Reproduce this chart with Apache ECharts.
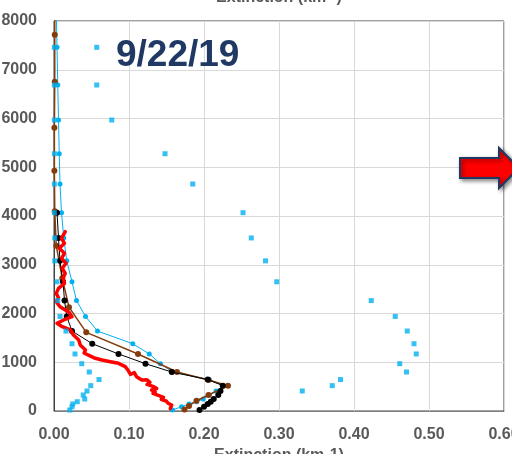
<!DOCTYPE html>
<html>
<head>
<meta charset="utf-8">
<script src="https://cdn.jsdelivr.net/npm/echarts@6/dist/echarts.min.js"></script>
<style>html,body{margin:0;padding:0;background:#fff;}#c{width:512px;height:454px;}</style>
</head>
<body>
<div id="c"></div>
<script>
// Altitudes (m) shared by the cyan profiles and the black profile
const heights = [8250, 7460, 6687, 5969, 5277, 4656, 4068, 3550, 3080, 2650, 2265, 1940, 1640, 1380, 1170, 970, 800, 645, 520, 410, 328, 246, 191, 144, 88, 20];
// Cyan squares, small-extinction column
const cyanSmall = [null, 0.0005, 0.0005, 0.0005, 0.0005, 0.0005, 0.0005, 0.001, 0.001, 0.004, 0.005, 0.008, 0.016, 0.024, 0.028, 0.037, 0.047, 0.060, 0.049, 0.044, 0.039, 0.041, 0.031, 0.025, 0.024, 0.021];
// Cyan squares, large-extinction column
const cyanLarge = [null, 0.057, 0.057, 0.077, 0.148, 0.185, 0.252, 0.263, 0.282, 0.297, 0.423, 0.455, 0.471, 0.480, 0.483, 0.461, 0.470, 0.382, 0.371, 0.331, null, null, null, null, null, null];
// Cyan line with markers
const cyanLine = [0.003, 0.004, 0.005, 0.006, 0.007, 0.008, 0.010, 0.013, 0.017, 0.024, 0.030, 0.042, 0.058, 0.105, 0.127, 0.142, 0.158, 0.207, 0.226, 0.216, 0.207, 0.199, 0.190, 0.180, 0.170, 0.158];
// Black line with markers
const blackLine = [null, null, null, null, null, null, 0.004, 0.006, 0.008, 0.012, 0.014, 0.017, 0.024, 0.051, 0.086, 0.122, 0.157, 0.205, 0.225, 0.222, 0.219, 0.213, 0.209, 0.205, 0.200, 0.194];
// Brown line with markers
const brownHeights = [8700, 7720, 6755, 5811, 4929, 4100, 3390, 2722, 2130, 1614, 1169, 800, 636, 519, 328, 211, 103, 30];
const brownLine = [0.001, 0.001, 0.001, 0.0005, 0.0005, 0.001, 0.003, 0.011, 0.020, 0.043, 0.112, 0.164, 0.206, 0.232, 0.206, 0.190, 0.180, 0.174];
// Red line (no markers)
const redHeights = [3678, 3542, 3440, 3337, 3235, 3132, 3030, 2927, 2824, 2722, 2619, 2516, 2413, 2324, 2242, 2139, 2024, 1934, 1867, 1799, 1730, 1662, 1559, 1456, 1354, 1251, 1190, 1130, 1081, 1046, 1012, 978, 909, 830, 750, 790, 704, 636, 640, 590, 545, 500, 460, 431, 390, 362, 320, 280, 240, 200, 158, 120, 80, 50];
const redLine = [0.015, 0.010, 0.014, 0.007, 0.014, 0.010, 0.016, 0.011, 0.015, 0.012, 0.014, 0.006, 0.003, 0.006, 0.003, 0.008, 0.020, 0.024, 0.013, 0.004, 0.011, 0.022, 0.026, 0.033, 0.035, 0.042, 0.040, 0.048, 0.055, 0.064, 0.075, 0.086, 0.095, 0.099, 0.102, 0.107, 0.110, 0.117, 0.124, 0.128, 0.124, 0.133, 0.137, 0.130, 0.135, 0.132, 0.139, 0.146, 0.143, 0.150, 0.152, 0.157, 0.158, 0.155];

const xTicks = [0, 0.1, 0.2, 0.3, 0.4, 0.5, 0.6];
const dateLabel = '9/22/19';
const axisTitle = 'Extinction (km-1)';
const topTitle = 'Extinction (km\u207B\u00B9)';

function pairs(xs, ys) {
  const out = [];
  for (let i = 0; i < xs.length; i++) {
    if (xs[i] !== null && xs[i] !== undefined) out.push([xs[i], ys[i]]);
  }
  return out;
}

const FONT = '"Liberation Sans", Arial, sans-serif';
const chart = echarts.init(document.getElementById('c'), null, {renderer: 'canvas'});
chart.setOption({
  animation: false,
  backgroundColor: '#ffffff',
  grid: {left: 54, right: 8, top: 21, bottom: 43, show: true, borderColor: '#404040', borderWidth: 1,
    containLabel: false, outerBoundsMode: 'none'},
  xAxis: {
    type: 'value', min: xTicks[0], max: xTicks[xTicks.length - 1], interval: 0.1,
    axisLine: {show: true, lineStyle: {color: '#808080', width: 1}},
    axisTick: {show: false},
    splitLine: {show: true, lineStyle: {color: '#D9D9D9', width: 1}},
    axisLabel: {color: '#595959', fontSize: 16, fontWeight: 'bold', fontFamily: FONT, margin: 16,
      hideOverlap: false, showMaxLabel: true, formatter: v => v.toFixed(2)},
    name: axisTitle, nameLocation: 'middle', nameGap: 34,
    nameTextStyle: {color: '#595959', fontSize: 16, fontWeight: 'bold', fontFamily: FONT}
  },
  yAxis: {
    type: 'value', min: 0, max: 8000, interval: 1000,
    axisLine: {show: true, lineStyle: {color: '#404040', width: 1}},
    axisTick: {show: false},
    splitLine: {show: true, lineStyle: {color: '#D9D9D9', width: 1}},
    axisLabel: {color: '#595959', fontSize: 16, fontWeight: 'bold', fontFamily: FONT, margin: 17,
      formatter: v => String(v)}
  },
  series: [
    {type: 'line', name: 'cyanLine', data: pairs(cyanLine, heights), symbol: 'circle', symbolSize: 5,
      lineStyle: {color: '#00B0F0', width: 1}, itemStyle: {color: '#00B0F0'}, clip: true, z: 2},
    {type: 'line', name: 'brown', data: pairs(brownLine, brownHeights), symbol: 'circle', symbolSize: 6,
      lineStyle: {color: '#843C0C', width: 1.5}, itemStyle: {color: '#843C0C'}, clip: true, z: 3},
    {type: 'line', name: 'black', data: pairs(blackLine, heights), symbol: 'circle', symbolSize: 6,
      lineStyle: {color: '#000000', width: 1}, itemStyle: {color: '#000000'}, clip: true, z: 4},
    {type: 'line', name: 'red', data: pairs(redLine, redHeights), showSymbol: false, symbol: 'none',
      lineStyle: {color: '#FF0000', width: 3.5, join: 'round', cap: 'round'}, clip: true, z: 5},
    {type: 'scatter', name: 'cyanSmall', data: pairs(cyanSmall, heights), symbol: 'rect', symbolSize: 5,
      itemStyle: {color: '#00B0F0'}, z: 6},
    {type: 'scatter', name: 'cyanLarge', data: pairs(cyanLarge, heights), symbol: 'rect', symbolSize: 5,
      itemStyle: {color: '#00B0F0'}, z: 6}
  ],
  graphic: [
    {type: 'text', left: 116, top: 37, z: 10,
      style: {text: dateLabel, fill: '#1F3864', font: 'bold 37px ' + FONT}},
    {type: 'text', x: 279, y: 6, z: 10,
      style: {text: topTitle, fill: '#595959', font: 'bold 16px ' + FONT, align: 'center', verticalAlign: 'bottom'}},
    {type: 'polygon', z: 10,
      shape: {points: [[460, 158], [499, 158], [499, 148], [519, 168], [499, 188], [499, 178], [460, 178]]},
      style: {fill: '#FF0000', stroke: '#1F3864', lineWidth: 2, shadowBlur: 4, shadowColor: 'rgba(0,0,0,0.45)', shadowOffsetX: 2, shadowOffsetY: 2}}
  ]
});
</script>
</body>
</html>
